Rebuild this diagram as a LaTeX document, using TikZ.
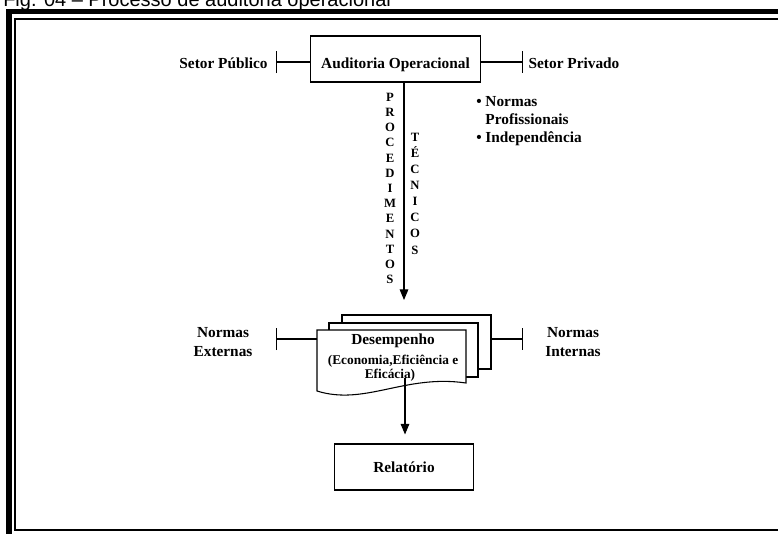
\documentclass[tikz,border=0pt]{standalone}
\usepackage{fontspec}
\setmainfont{Liberation Serif}
\newfontfamily\titlefont{Liberation Sans}
\usetikzlibrary{arrows.meta}

\tikzset{
  lbl/.style={font=\fontsize{11.5}{14.2}\selectfont\bfseries, inner sep=0pt},
  sublbl/.style={font=\fontsize{10}{12}\selectfont\bfseries, inner sep=0pt},
  vlet/.style={font=\fontsize{9.5}{11.4}\selectfont\bfseries, align=center, inner sep=0pt},
  box/.style={draw, line width=0.8pt, fill=white, lbl},
  sheet/.style={draw, line width=0.8pt, fill=white},
  arr/.style={line width=0.8pt, -{Triangle[width=6.5pt,length=8pt]}},
  tee/.style={line width=0.8pt, -{Bar[width=16.5pt]}}
}

\begin{document}
\begin{tikzpicture}[x=0.75pt,y=-0.75pt]
\useasboundingbox (0,0) rectangle (778,533);
% moldura
\node[font=\titlefont\fontsize{15}{17}\selectfont, anchor=base west, inner sep=0pt] (titulo) at (3,6) {Fig. 04 – Processo de auditoria operacional};
\fill (6,9) rectangle (790,14);
\fill (6,9) rectangle (12,540);
\draw[line width=0.9pt] (15,19) rectangle (790,530);

% auditoria e setores
\node[box, minimum width=127pt, minimum height=34.5pt, text height=14pt, text depth=0pt] (aud) at (395.5,59) {Auditoria Operacional};
\node[lbl] (pub) at (223.5,63) {Setor Público};
\node[lbl] (priv) at (574,63) {Setor Privado};
\coordinate (pubbar) at (276,62);
\coordinate (privbar) at (523,62);
\draw[tee] (aud.west |- pubbar) -- (pubbar);
\draw[tee] (aud.east |- privbar) -- (privbar);

% procedimentos tecnicos
\node[vlet] (proc) at (390,188.5) {P\\R\\O\\C\\E\\D\\I\\M\\E\\N\\T\\O\\S};
\node[vlet, font=\fontsize{9.5}{12.1}\selectfont\bfseries] (tec) at (415,193.5) {T\\É\\C\\N\\I\\C\\O\\S};
\coordinate (docin) at (404,300);
\draw[arr] (aud.south -| docin) -- (docin);
\node[lbl, align=left, anchor=base west, font=\fontsize{11.5}{13.2}\selectfont\bfseries] (prof) at (476,142) {• Normas\\\phantom{• }Profissionais\\• Independência};

% desempenho
\draw[sheet] (342,315) rectangle (491,369);
\draw[sheet] (329,323) rectangle (478,377);
\draw[sheet] (317,330) -- (466,330) -- (466,383) .. controls (405,374) and (365,406) .. (317,391) -- cycle;
\node[lbl] (desemp) at (393,341) {Desempenho};
\node[sublbl] (econ) at (393,361) {(Economia,Eficiência e};
\node[sublbl] (efic) at (390,375) {Eficácia)};

% normas
\node[lbl, align=center] (ext) at (223,342.5) {Normas\\Externas};
\node[lbl, align=center] (int) at (573,342.5) {Normas\\Internas};
\coordinate (frente) at (317,339);
\coordinate (extbar) at (276,339);
\coordinate (fundo) at (491,339);
\coordinate (intbar) at (523,339);
\draw[tee] (frente) -- (extbar);
\draw[tee] (fundo) -- (intbar);

% relatorio
\node[box, minimum width=104pt, minimum height=34.5pt] (relat) at (404,467) {Relatório};
\coordinate (docout) at (405,378);
\draw[arr, shorten >=6.75pt] (docout) -- (docout |- relat.north);
\end{tikzpicture}
\end{document}
